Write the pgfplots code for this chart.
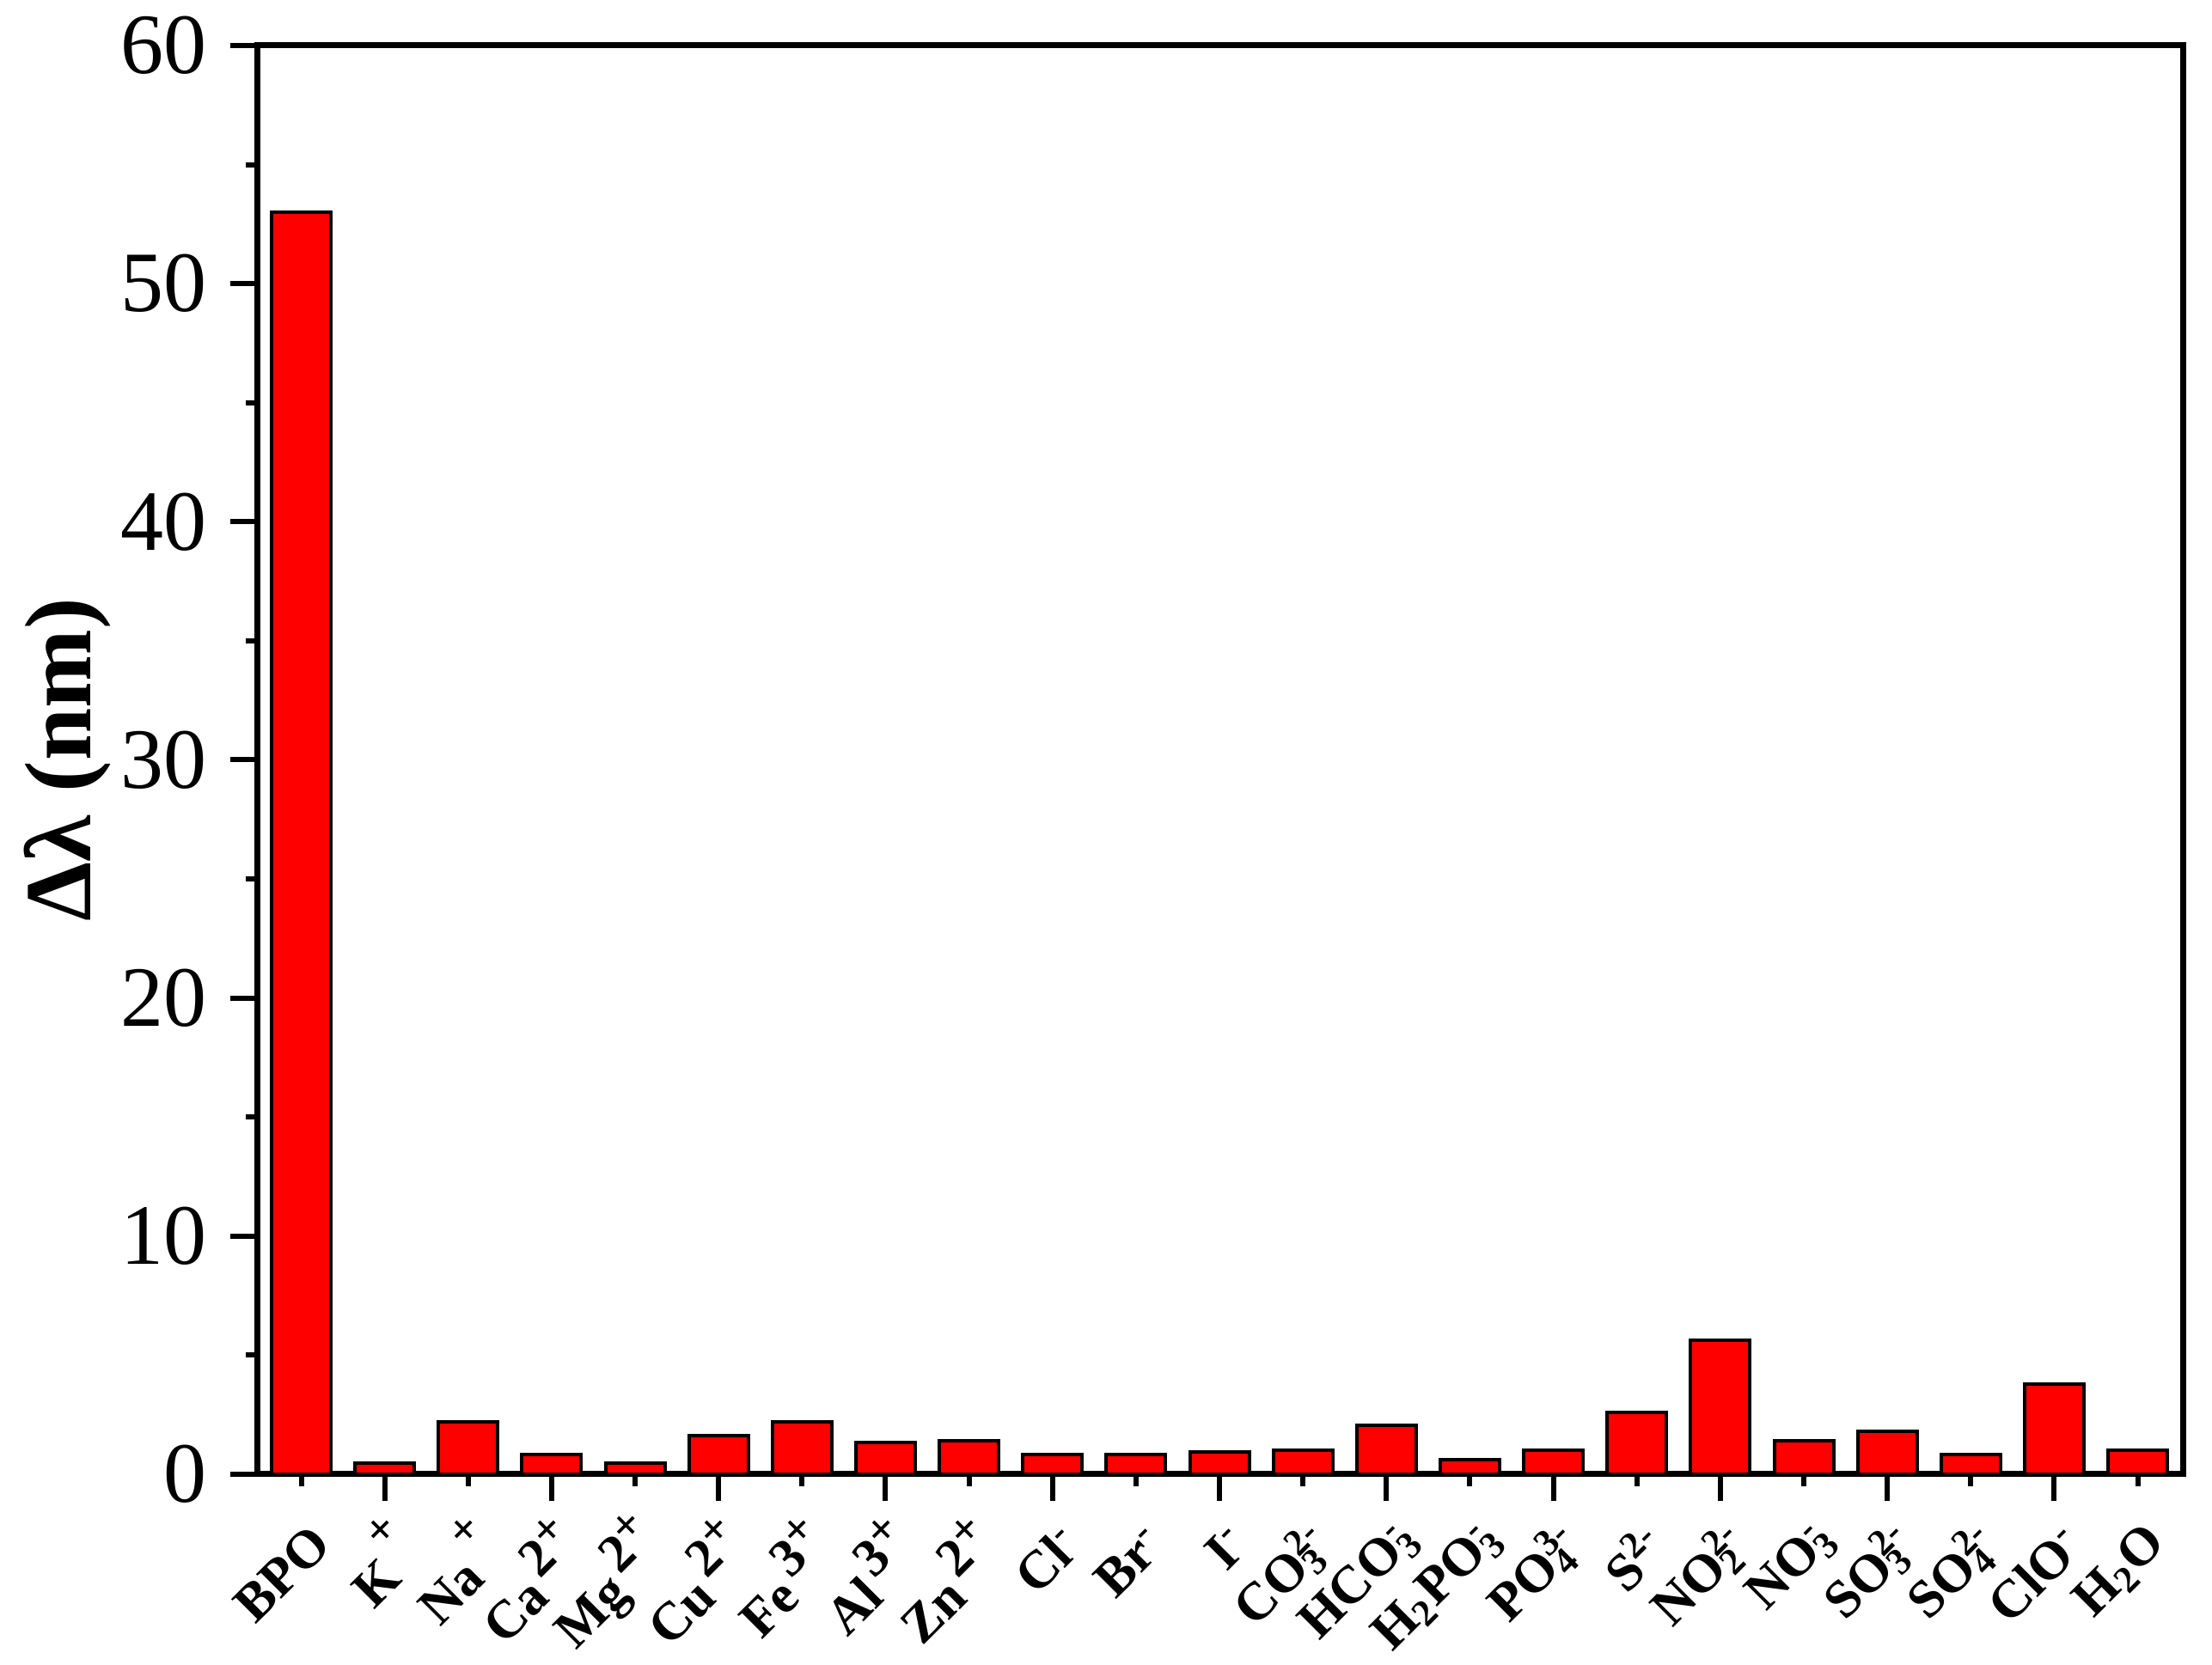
\documentclass[border=0pt]{standalone}
\usepackage{fontspec}
\setmainfont{Liberation Serif}
\usepackage{pgfplots}
\pgfplotsset{compat=1.18}
% stacked subscript/superscript for the anions
\newcommand{\su}[2]{\rlap{\textsubscript{#1}}\textsuperscript{#2}}
% cation charge: large raised number, raised plus
\newcommand{\mi}[1]{\kern0.12em\raisebox{0.42em}{#1}\raisebox{0.7em}{\fontsize{11}{11}\selectfont +}}
\begin{document}
\begin{tikzpicture}
\begin{axis}[
 scale only axis, width=448pt, height=332.6pt,
 xmin=-0.52, xmax=22.54, ymin=0, ymax=60,
 ybar, bar width=0.71,
 axis line style={line width=1.4pt},
 tick style={line width=1.2pt, black},
 tick align=outside,
 xtick pos=left, ytick pos=left,
 major tick length=6.3pt, minor tick length=2.8pt,
 ytick={0,10,...,60}, minor y tick num=1,
 xtick={1,3,...,21}, xticklabels={},
 minor xtick={0,2,...,22},
 extra x ticks={0,...,22},
 extra x tick style={major tick length=0pt},
 extra x tick labels={BPO, K\mi{}, Na\mi{}, Ca\mi{2}, Mg\mi{2}, Cu\mi{2}, Fe\mi{3}, Al\mi{3}, Zn\mi{2}, Cl\textsuperscript{-}, Br\textsuperscript{-}, I\textsuperscript{-}, CO\su{3}{2-}, HCO\su{3}{-}, H\textsubscript{2}PO\su{3}{-}, PO\su{4}{3-}, S\textsuperscript{2-}, NO\su{2}{2-}, NO\su{3}{-}, SO\su{3}{2-}, SO\su{4}{2-}, ClO\textsuperscript{-}, H\textsubscript{2}O},
 xticklabel style={rotate=45, anchor=east, inner sep=0pt, xshift=-6.5pt, yshift=-13.3pt, font=\fontsize{12.5}{12.5}\selectfont\bfseries},
 yticklabel style={anchor=east, inner sep=5.3pt, font=\fontsize{20}{20}\selectfont},
 /pgf/number format/assume math mode=true,
 every axis y label/.style={at={(axis description cs:-0.0987,0.5)}, rotate=90, anchor=center},
 ylabel={\fontsize{22}{22}\selectfont\bfseries Δλ (nm)},
]
\addplot[fill=red, draw=black, line width=0.8pt] coordinates {
(0,53) (1,0.46) (2,2.2) (3,0.84) (4,0.46) (5,1.64) (6,2.2) (7,1.33)
(8,1.42) (9,0.84) (10,0.84) (11,0.94) (12,1.0) (13,2.05) (14,0.63)
(15,1.0) (16,2.6) (17,5.64) (18,1.42) (19,1.82) (20,0.84) (21,3.8) (22,1.0)
};
\end{axis}
\pgfresetboundingbox
\path[use as bounding box] ([xshift=-60pt,yshift=-44.4pt]current axis.south west) rectangle ([xshift=6.8pt,yshift=10.6pt]current axis.north east);
\end{tikzpicture}
\end{document}
